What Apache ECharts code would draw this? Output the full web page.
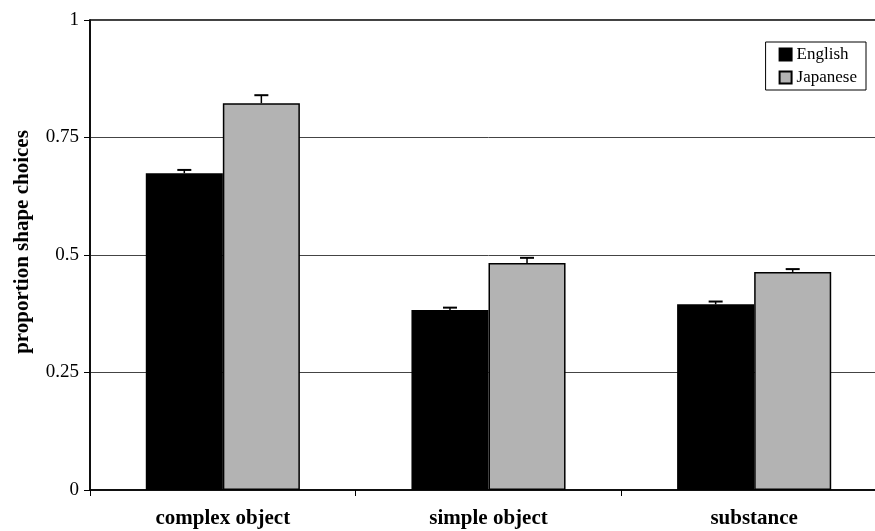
<!DOCTYPE html>
<html>
<head>
<meta charset="utf-8">
<script src="https://cdn.jsdelivr.net/npm/echarts@6/dist/echarts.min.js"></script>
<style>
  html, body { margin: 0; padding: 0; background: #fff; overflow: hidden; }
  /* plot runs off the right edge in the original, so the canvas is a bit wider than the window */
  #chart { width: 890px; height: 531px; }
</style>
</head>
<body>
<div id="chart"></div>
<script>
  // data
  var categories = ['complex object', 'simple object', 'substance'];
  var englishVals = [0.674, 0.383, 0.395];
  var japaneseVals = [0.823, 0.483, 0.464];
  // top of the error bar (upper cap only)
  var englishErr = [0.681, 0.388, 0.401];
  var japaneseErr = [0.840, 0.494, 0.470];
  var yTicks = [0, 0.25, 0.5, 0.75, 1];

  var serif = 'Liberation Serif';
  var barPct = 0.29;

  var chart = echarts.init(document.getElementById('chart'));

  function errSeries(name, tops, side) {
    return {
      name: name + ' err',
      type: 'custom',
      z: 5,
      silent: true,
      data: tops.map(function (v, i) { return [i, v]; }),
      renderItem: function (params, api) {
        var bandW = api.size([1, 0])[0];
        var bw = bandW * barPct;
        var idx = api.value(0);
        var base = api.coord([idx, 0]);
        var top = api.coord([idx, api.value(1)]);
        var val = (side < 0 ? englishVals : japaneseVals)[idx];
        var barTop = api.coord([idx, val]);
        var cx = base[0] + side * bw / 2;
        var half = 7;
        return {
          type: 'group',
          children: [
            { type: 'line', shape: { x1: cx, y1: barTop[1], x2: cx, y2: top[1] },
              style: { stroke: '#000', lineWidth: 1.5 } },
            { type: 'line', shape: { x1: cx - half, y1: top[1], x2: cx + half, y2: top[1] },
              style: { stroke: '#000', lineWidth: 2 } }
          ]
        };
      }
    };
  }

  chart.setOption({
    backgroundColor: '#fff',
    animation: false,
    grid: { left: 90, top: 20, right: 3, bottom: 41, show: true, borderColor: '#000', borderWidth: 1.5 },
    legend: {
      right: 24,
      top: 42,
      orient: 'vertical',
      align: 'left',
      data: ['English', 'Japanese'],
      icon: 'rect',
      itemWidth: 12,
      itemHeight: 12,
      itemGap: 6,
      padding: [4, 9, 4, 13],
      borderColor: '#000',
      borderWidth: 1,
      backgroundColor: '#fff',
      textStyle: { fontFamily: serif, fontSize: 17, color: '#000' }
    },
    xAxis: {
      type: 'category',
      data: categories,
      axisLine: { lineStyle: { color: '#000', width: 1.5 } },
      axisTick: { show: true, length: 6, lineStyle: { color: '#000' } },
      axisLabel: { fontFamily: serif, fontSize: 21, fontWeight: 'bold', color: '#000', margin: 18 }
    },
    yAxis: {
      type: 'value',
      min: 0,
      max: 1,
      interval: 0.25,
      name: 'proportion shape choices',
      nameLocation: 'middle',
      nameGap: 57,
      // nudges the rotated title up a little, as in the original
      nameTextStyle: { fontFamily: serif, fontSize: 21, fontWeight: 'bold', color: '#000', padding: [0, 0, 0, 26] },
      axisLine: { show: true, lineStyle: { color: '#000', width: 1.5 } },
      axisTick: { show: true, length: 6, lineStyle: { color: '#000' } },
      axisLabel: {
        fontFamily: serif, fontSize: 19, color: '#000', margin: 11,
        formatter: function (v) { return yTicks.indexOf(v) >= 0 ? String(v) : ''; }
      },
      splitLine: { show: true, lineStyle: { color: '#444', width: 1 } }
    },
    series: [
      {
        name: 'English',
        type: 'bar',
        barWidth: (barPct * 100) + '%',
        barGap: '0%',
        itemStyle: { color: '#000', borderColor: '#000', borderWidth: 1.5 },
        data: englishVals
      },
      {
        name: 'Japanese',
        type: 'bar',
        barWidth: (barPct * 100) + '%',
        barGap: '0%',
        itemStyle: { color: '#b3b3b3', borderColor: '#000', borderWidth: 1.5 },
        data: japaneseVals
      },
      errSeries('English', englishErr, -1),
      errSeries('Japanese', japaneseErr, 1)
    ]
  });
</script>
</body>
</html>
